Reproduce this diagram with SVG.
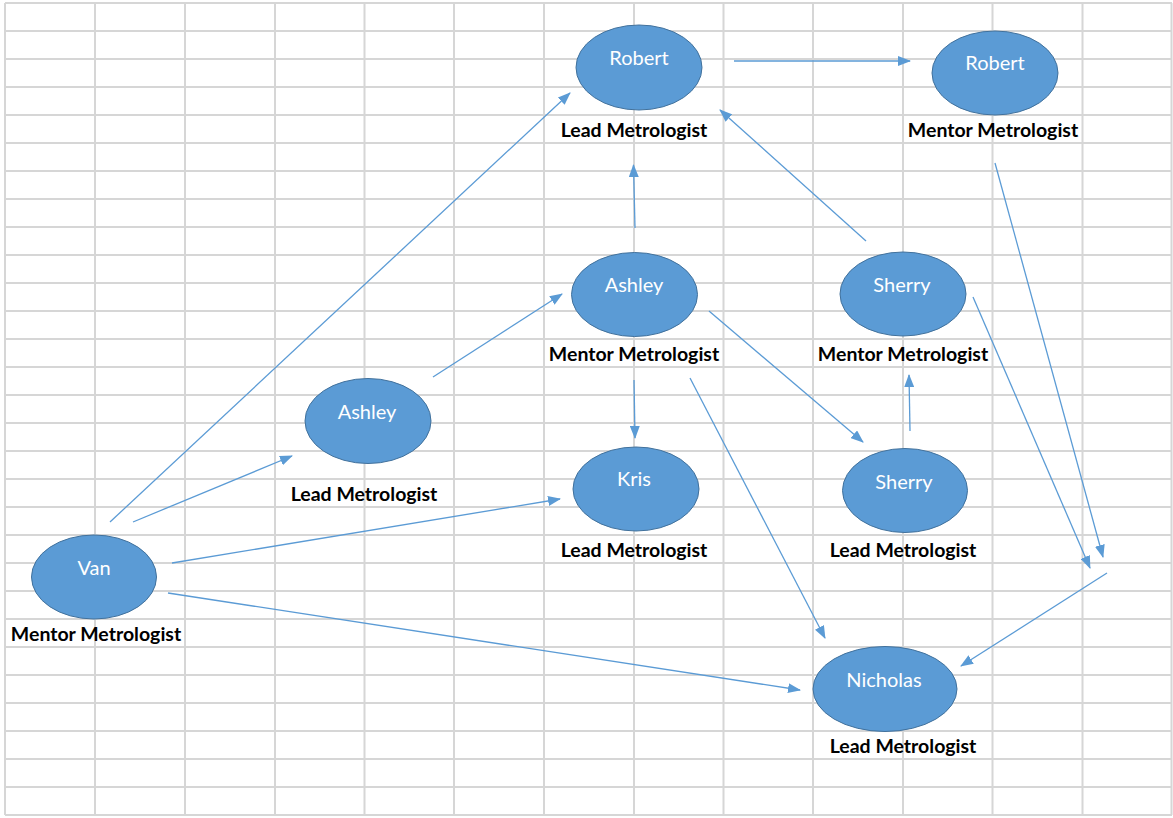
<svg xmlns="http://www.w3.org/2000/svg" width="1173" height="818" viewBox="0 0 1173 818">
<style>
.grid line{stroke:#d6d6d6;stroke-width:2}
.node ellipse{fill:#5b9bd5;stroke:#41719c;stroke-width:1}
.name{font-family:Lato,"Open Sans",sans-serif;font-size:20px;fill:#ffffff;text-anchor:middle}
.role{font-family:Lato,"Open Sans",sans-serif;font-size:19.5px;font-weight:bold;fill:#000000;text-anchor:middle}
.conn line{stroke:#5b9bd5;stroke-width:1.3;marker-end:url(#arr)}
</style>
<defs>
<marker id="arr" markerUnits="userSpaceOnUse" markerWidth="13" markerHeight="10" refX="12" refY="5" orient="auto">
<path d="M0,0 L13,5 L0,10 Z" fill="#5b9bd5"/>
</marker>
</defs>
<rect width="1173" height="818" fill="#ffffff"/>
<g class="grid">
<line x1="5" y1="3" x2="5" y2="815"/><line x1="95" y1="3" x2="95" y2="815"/><line x1="185" y1="3" x2="185" y2="815"/><line x1="275" y1="3" x2="275" y2="815"/><line x1="364.5" y1="3" x2="364.5" y2="815"/><line x1="454" y1="3" x2="454" y2="815"/><line x1="544" y1="3" x2="544" y2="815"/><line x1="634" y1="3" x2="634" y2="815"/><line x1="723.5" y1="3" x2="723.5" y2="815"/><line x1="813" y1="3" x2="813" y2="815"/><line x1="903" y1="3" x2="903" y2="815"/><line x1="992.5" y1="3" x2="992.5" y2="815"/><line x1="1082.5" y1="3" x2="1082.5" y2="815"/><line x1="1171.5" y1="3" x2="1171.5" y2="815"/>
<line x1="5" y1="3" x2="1172" y2="3"/><line x1="5" y1="31" x2="1172" y2="31"/><line x1="5" y1="59" x2="1172" y2="59"/><line x1="5" y1="87" x2="1172" y2="87"/><line x1="5" y1="115" x2="1172" y2="115"/><line x1="5" y1="143" x2="1172" y2="143"/><line x1="5" y1="171" x2="1172" y2="171"/><line x1="5" y1="199" x2="1172" y2="199"/><line x1="5" y1="227" x2="1172" y2="227"/><line x1="5" y1="255" x2="1172" y2="255"/><line x1="5" y1="283" x2="1172" y2="283"/><line x1="5" y1="311" x2="1172" y2="311"/><line x1="5" y1="339" x2="1172" y2="339"/><line x1="5" y1="367" x2="1172" y2="367"/><line x1="5" y1="395" x2="1172" y2="395"/><line x1="5" y1="423" x2="1172" y2="423"/><line x1="5" y1="451" x2="1172" y2="451"/><line x1="5" y1="479" x2="1172" y2="479"/><line x1="5" y1="507" x2="1172" y2="507"/><line x1="5" y1="535" x2="1172" y2="535"/><line x1="5" y1="563" x2="1172" y2="563"/><line x1="5" y1="591" x2="1172" y2="591"/><line x1="5" y1="619" x2="1172" y2="619"/><line x1="5" y1="647" x2="1172" y2="647"/><line x1="5" y1="675" x2="1172" y2="675"/><line x1="5" y1="703" x2="1172" y2="703"/><line x1="5" y1="731" x2="1172" y2="731"/><line x1="5" y1="759" x2="1172" y2="759"/><line x1="5" y1="787" x2="1172" y2="787"/><line x1="5" y1="815" x2="1172" y2="815"/>
</g>
<g class="conn">
<line x1="110" y1="522" x2="570" y2="93"/>
<line x1="133" y1="522" x2="292" y2="456"/>
<line x1="172" y1="563" x2="560" y2="499"/>
<line x1="168" y1="593" x2="800" y2="690"/>
<line x1="433" y1="377" x2="562" y2="294"/>
<line x1="635" y1="228" x2="633.5" y2="165"/>
<line x1="634" y1="380" x2="635" y2="438"/>
<line x1="709" y1="311" x2="863" y2="442"/>
<line x1="690" y1="378" x2="825" y2="638"/>
<line x1="734" y1="61" x2="910" y2="61"/>
<line x1="866" y1="241" x2="720" y2="110"/>
<line x1="910" y1="431" x2="909" y2="375"/>
<line x1="973" y1="297" x2="1090" y2="568"/>
<line x1="995" y1="163" x2="1103" y2="557"/>
<line x1="1107" y1="573" x2="961" y2="666"/>
</g>
<g id="robert-lead" class="node"><ellipse cx="639" cy="67.5" rx="63" ry="42.5"/><text class="name" x="639" y="65">Robert</text><text class="role" x="634" y="137">Lead Metrologist</text></g>
<g id="robert-mentor" class="node"><ellipse cx="995" cy="73" rx="63" ry="42"/><text class="name" x="995" y="70">Robert</text><text class="role" x="993" y="137">Mentor Metrologist</text></g>
<g id="ashley-mentor" class="node"><ellipse cx="634.5" cy="294.5" rx="63" ry="42"/><text class="name" x="634" y="292">Ashley</text><text class="role" x="634" y="361">Mentor Metrologist</text></g>
<g id="sherry-mentor" class="node"><ellipse cx="903" cy="294" rx="63" ry="42"/><text class="name" x="902" y="292">Sherry</text><text class="role" x="903" y="361">Mentor Metrologist</text></g>
<g id="ashley-lead" class="node"><ellipse cx="368" cy="421" rx="63" ry="42.5"/><text class="name" x="367" y="419">Ashley</text><text class="role" x="364" y="501">Lead Metrologist</text></g>
<g id="kris" class="node"><ellipse cx="636" cy="489" rx="63" ry="42"/><text class="name" x="634" y="486">Kris</text><text class="role" x="634" y="557">Lead Metrologist</text></g>
<g id="sherry-lead" class="node"><ellipse cx="905" cy="490.5" rx="62.5" ry="42"/><text class="name" x="904" y="489">Sherry</text><text class="role" x="903" y="557">Lead Metrologist</text></g>
<g id="van" class="node"><ellipse cx="94" cy="577" rx="62.5" ry="42"/><text class="name" x="94" y="575">Van</text><text class="role" x="96" y="641">Mentor Metrologist</text></g>
<g id="nicholas" class="node"><ellipse cx="885" cy="689" rx="72" ry="42.5"/><text class="name" x="884" y="687">Nicholas</text><text class="role" x="903" y="753">Lead Metrologist</text></g>
</svg>
